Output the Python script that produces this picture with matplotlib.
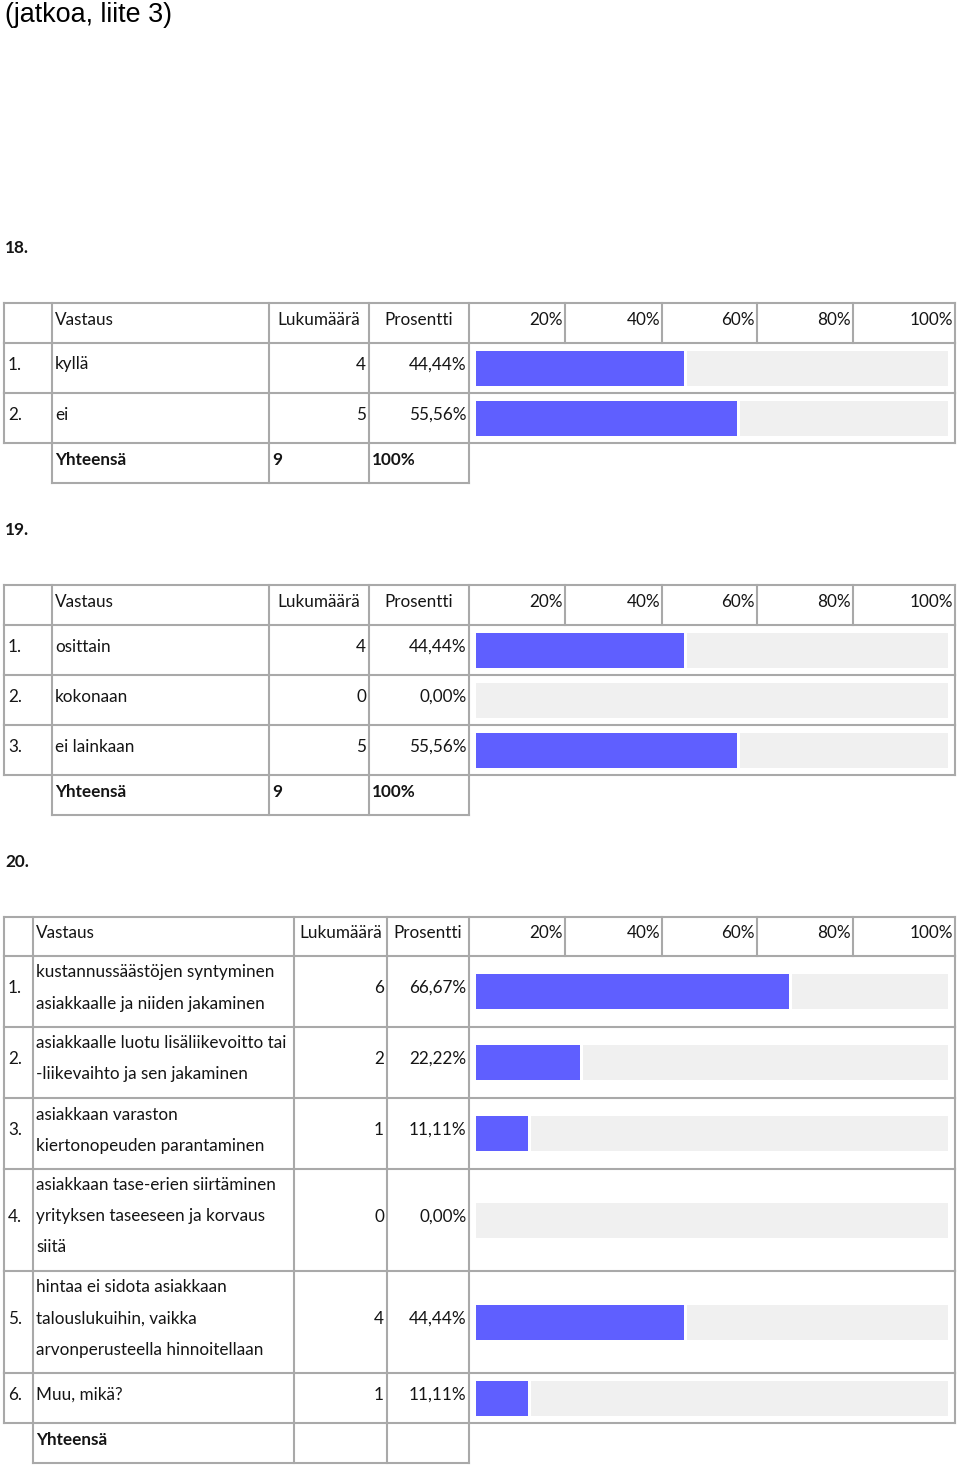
import matplotlib.pyplot as plt

# --- data ---
scale_ticks = ["20%", "40%", "60%", "80%", "100%"]

q18_labels = ["kyllä", "ei"]
q18_counts = [4, 5]
q18_pct = [44.44, 55.56]
q18_total = ["9", "100%"]

q19_labels = ["osittain", "kokonaan", "ei lainkaan"]
q19_counts = [4, 0, 5]
q19_pct = [44.44, 0.00, 55.56]
q19_total = ["9", "100%"]

q20_labels = [
    "kustannussäästöjen syntyminen\nasiakkaalle ja niiden jakaminen",
    "asiakkaalle luotu lisäliikevoitto tai\n-liikevaihto ja sen jakaminen",
    "asiakkaan varaston\nkiertonopeuden parantaminen",
    "asiakkaan tase-erien siirtäminen\nyrityksen taseeseen ja korvaus\nsiitä",
    "hintaa ei sidota asiakkaan\ntalouslukuihin, vaikka\narvonperusteella hinnoitellaan",
    "Muu, mikä?",
]
q20_counts = [6, 2, 1, 0, 4, 1]
q20_pct = [66.67, 22.22, 11.11, 0.00, 44.44, 11.11]
q20_total = ["", ""]

# --- style ---
FONT = "Lato"
FS = 12.3
TXT = "#151515"
LINE = "#a9a9a9"
BLUE = "#5f5fff"
BG = "#f0f0f0"
LW = 1.5

fig = plt.figure(figsize=(9.6, 14.68), dpi=100)
ax = fig.add_axes([0, 0, 1, 1])
ax.set_xlim(0, 960)
ax.set_ylim(1468, 0)
ax.axis("off")


def hline(y, x0, x1):
    ax.plot([x0, x1], [y, y], color=LINE, lw=LW, solid_capstyle="projecting")


def vline(x, y0, y1):
    ax.plot([x, x], [y0, y1], color=LINE, lw=LW, solid_capstyle="projecting")


def txt(x, y, s, ha="left", bold=False):
    ax.text(x, y, s, ha=ha, va="center", fontsize=FS, family=FONT,
            fontweight="bold" if bold else "normal", color=TXT)


def draw_table(top, cols, labels, counts, pct, total):
    # cols: [left, num|label, label|count, count|pct, pct|bar, ticks..., right]
    bar_left = cols[4] + 7
    bar_right = cols[-1] - 7
    scale = (bar_right - 3 - bar_left) / 100.0
    header_h = 40 if cols[1] > 40 else 39
    # header
    y0, y1 = top, top + header_h
    hline(y0, cols[0], cols[-1])
    hline(y1, cols[0], cols[-1])
    for x in cols:
        vline(x, y0, y1)
    yc = (y0 + y1) / 2 - 3
    txt(cols[1] + 3, yc, "Vastaus")
    txt((cols[2] + cols[3]) / 2, yc, "Lukumäärä", ha="center")
    txt((cols[3] + cols[4]) / 2, yc, "Prosentti", ha="center")
    for i, t in enumerate(scale_ticks):
        txt(cols[5 + i] - 2, yc, t, ha="right")
    # rows
    y = y1
    for i, lab in enumerate(labels):
        lines = lab.split("\n")
        h = max(50, 9 + 31 * len(lines))
        ya, yb = y, y + h
        for x in [cols[0], cols[1], cols[2], cols[3], cols[4], cols[-1]]:
            vline(x, ya, yb)
        hline(yb, cols[0], cols[-1])
        yc = (ya + yb) / 2
        ty = yc - 3.5
        txt(cols[0] + 4, ty, f"{i + 1}.")
        for k, ln in enumerate(lines):
            txt(cols[1] + 3, ty + (k - (len(lines) - 1) / 2) * 31, ln)
        txt(cols[3] - 3, ty, str(counts[i]), ha="right")
        txt(cols[4] - 2.5, ty, f"{pct[i]:.2f}".replace(".", ",") + "%", ha="right")
        w = pct[i] * scale
        ax.barh(yc, w, left=bar_left, height=35, color=BLUE, edgecolor="none")
        gstart = bar_left + w + 3 if w > 0 else bar_left
        ax.barh(yc, bar_right - gstart, left=gstart, height=35, color=BG,
                edgecolor="none", zorder=1)
        y = yb
    # total row
    ya, yb = y, y + 40
    for x in cols[1:5]:
        vline(x, ya, yb)
    hline(yb, cols[1], cols[4])
    yc = (ya + yb) / 2 - 3
    txt(cols[1] + 3, yc, "Yhteensä", bold=True)
    txt(cols[2] + 3, yc, total[0], bold=True)
    txt(cols[3] + 3, yc, total[1], bold=True)


ax.text(5, 15, "(jatkoa, liite 3)", ha="left", va="center", fontsize=19.4,
        family="Liberation Sans", color="black")

ax.text(5, 248, "18.", ha="left", va="center", fontsize=FS, family=FONT,
        fontweight="bold", color=TXT)
draw_table(303, [4, 52, 269, 369, 469, 565, 662, 757, 853, 955],
           q18_labels, q18_counts, q18_pct, q18_total)

ax.text(5, 530, "19.", ha="left", va="center", fontsize=FS, family=FONT,
        fontweight="bold", color=TXT)
draw_table(585, [4, 52, 269, 369, 469, 565, 662, 757, 853, 955],
           q19_labels, q19_counts, q19_pct, q19_total)

ax.text(5, 862, "20.", ha="left", va="center", fontsize=FS, family=FONT,
        fontweight="bold", color=TXT)
draw_table(917, [4, 33, 294, 387, 469, 565, 662, 757, 853, 955],
           q20_labels, q20_counts, q20_pct, q20_total)

fig.savefig("out.png", dpi=100, facecolor="white")
